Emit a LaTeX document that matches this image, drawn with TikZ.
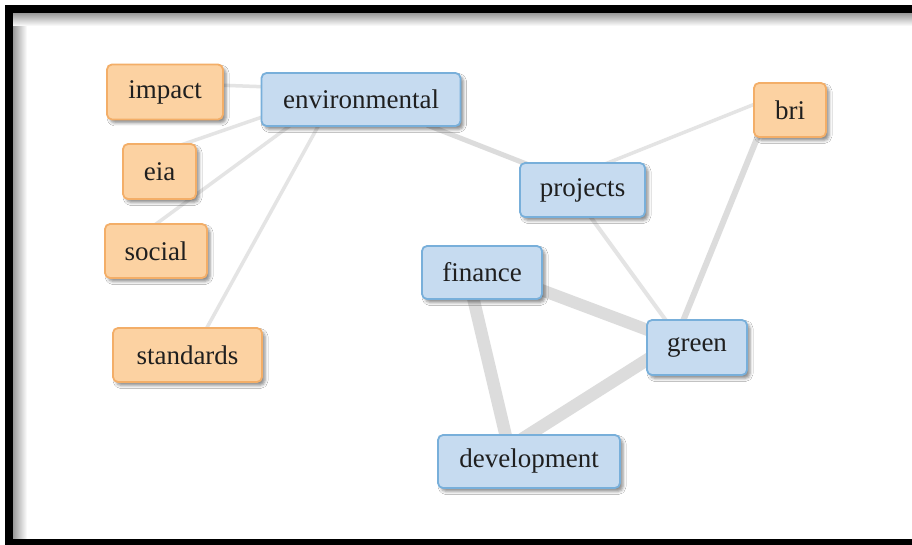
\documentclass[tikz,border=0pt]{standalone}
\usepackage{fontspec}
\setmainfont{Liberation Serif}
\usetikzlibrary{shadows.blur,calc,backgrounds}
\definecolor{bfill}{HTML}{C6DBF0}
\definecolor{bdraw}{HTML}{78AFDA}
\definecolor{ofill}{HTML}{FCD2A2}
\definecolor{odraw}{HTML}{F3AE68}
\definecolor{thinedge}{HTML}{E4E4E4}
\definecolor{thickedge}{HTML}{DCDCDC}
\begin{document}
\begin{tikzpicture}[x=1pt,y=-1pt,
  box/.style={rounded corners=5pt, line width=1.8pt, inner sep=0pt,
    font=\fontsize{27}{32}\selectfont, text=black!88,
    blur shadow={shadow xshift=3pt, shadow yshift=-3.5pt, shadow blur radius=3pt, shadow opacity=45}},
  bnode/.style={box, fill=bfill, draw=bdraw},
  onode/.style={box, fill=ofill, draw=odraw},
  thinlink/.style={draw=thinedge, line width=3.5pt},
  midlink/.style={draw=thickedge, line width=5pt},
  fatlink/.style={draw=thickedge, line width=12.5pt}]
\useasboundingbox (0,0) rectangle (912,545);

\node[onode, minimum width=116pt, minimum height=55pt] (impact) at (165,92) {impact};
\node[bnode, minimum width=199pt, minimum height=53pt] (env) at (361,99.5) {environmental};
\node[onode, minimum width=73pt, minimum height=55pt] (eia) at (159.5,171.5) {eia};
\node[onode, minimum width=102pt, minimum height=54pt] (social) at (156,251) {social};
\node[onode, minimum width=149pt, minimum height=54pt] (standards) at (187.5,355) {standards};
\node[bnode, minimum width=125pt, minimum height=54pt] (projects) at (582.5,190) {projects};
\node[onode, minimum width=72pt, minimum height=54pt] (bri) at (790,110) {bri};
\node[bnode, minimum width=120pt, minimum height=53pt] (finance) at (482,272.5) {finance};
\node[bnode, minimum width=100pt, minimum height=55pt] (green) at (697,347.5) {green};
\node[bnode, minimum width=182pt, minimum height=53pt] (dev) at (529,461.5) {development};

\begin{scope}[on background layer]
  \clip (0,0) rectangle (912,545);
  \fill[white] (0,0) rectangle (912,545);
  \shade[left color=black!40, right color=white] (13,13) rectangle (27,539);
  \shade[top color=black!40, bottom color=white] (13,13) rectangle (912,26);
  \draw[line width=8pt] (9,9) rectangle (960,543);
  % edges
  \draw[thinlink] ($(impact.center)+(50,-7)$) -- ($(env.center)+(-91,-12.5)$);
  \draw[thinlink] ($(eia.center)+(21.5,-26.5)$) -- ($(env.center)+(-93,15.5)$);
  \draw[thinlink] ($(social.center)+(-4,-24)$) -- ($(env.center)+(-66,22.5)$);
  \draw[thinlink] ($(standards.center)+(16.5,-22)$) -- ($(env.center)+(-40,21.5)$);
  \draw[midlink] ($(env.center)+(66,25.5)$) -- ($(projects.center)+(-53.5,-25)$);
  \draw[thinlink] ($(projects.center)+(17.5,-24)$) -- ($(bri.center)+(-30,-8)$);
  \draw[thinlink, line width=4pt] ($(projects.center)+(4.5,22)$) -- ($(green.center)+(-27,-21.5)$);
  \draw[midlink, line width=6pt] ($(bri.center)+(-30,21)$) -- ($(green.center)+(-16,-21.5)$);
  \draw[fatlink, line width=12pt] ($(finance.center)+(54,15.5)$) -- ($(green.center)+(-44,-15.5)$);
  \draw[fatlink] ($(finance.center)+(-10,20.5)$) -- ($(dev.center)+(-22,-20.5)$);
  \draw[fatlink] ($(green.center)+(-44,8.5)$) -- ($(dev.center)+(-7,-22.5)$);
\end{scope}
\end{tikzpicture}
\end{document}
